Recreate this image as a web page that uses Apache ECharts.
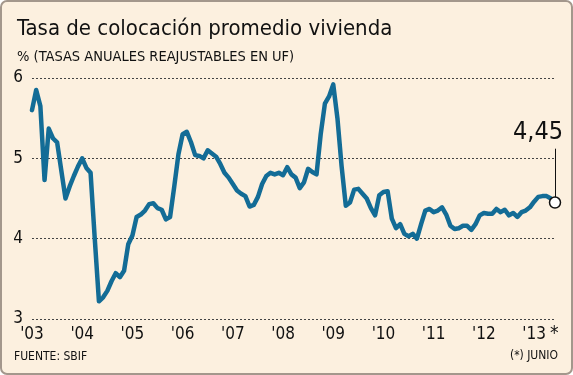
<!DOCTYPE html>
<html>
<head>
<meta charset="utf-8">
<script src="https://cdn.jsdelivr.net/npm/echarts@6/dist/echarts.min.js"></script>
<style>
  html, body { margin: 0; padding: 0; background: #fff; }
  #chart { width: 573px; height: 375px; }
</style>
</head>
<body>
<div id="chart"></div>
<script>
// tasas mensuales, enero 2003 - junio 2013
var years = ['2003', '2004', '2005', '2006', '2007', '2008', '2009', '2010', '2011', '2012', '2013']
var r2003 = [5.6, 5.85, 5.65, 4.73, 5.37, 5.25, 5.2, 4.85, 4.5, 4.65, 4.78, 4.9]
var r2004 = [5.0, 4.88, 4.82, 4.0, 3.22, 3.27, 3.35, 3.47, 3.57, 3.52, 3.6, 3.93]
var r2005 = [4.04, 4.27, 4.3, 4.35, 4.43, 4.44, 4.38, 4.36, 4.24, 4.27, 4.65, 5.05]
var r2006 = [5.3, 5.33, 5.2, 5.04, 5.03, 5.0, 5.1, 5.06, 5.02, 4.93, 4.82, 4.76]
var r2007 = [4.68, 4.6, 4.56, 4.53, 4.4, 4.42, 4.52, 4.68, 4.78, 4.82, 4.8, 4.82]
var r2008 = [4.79, 4.89, 4.8, 4.76, 4.63, 4.7, 4.87, 4.83, 4.8, 5.3, 5.68, 5.77]
var r2009 = [5.92, 5.5, 4.9, 4.41, 4.45, 4.61, 4.62, 4.56, 4.5, 4.38, 4.29, 4.54]
var r2010 = [4.58, 4.59, 4.25, 4.13, 4.18, 4.06, 4.03, 4.06, 4.0, 4.18, 4.35, 4.37]
var r2011 = [4.33, 4.35, 4.39, 4.3, 4.16, 4.12, 4.13, 4.16, 4.16, 4.11, 4.18, 4.29]
var r2012 = [4.32, 4.31, 4.31, 4.37, 4.33, 4.36, 4.29, 4.32, 4.27, 4.33, 4.35, 4.39]
var r2013 = [4.46, 4.52, 4.53, 4.53, 4.5, 4.45]
var yTicks = [3, 4, 5, 6]
var lastLabel = '4,45'

var rates = [].concat(r2003, r2004, r2005, r2006, r2007, r2008, r2009, r2010, r2011, r2012, r2013)
var months = []
var perYear = [r2003, r2004, r2005, r2006, r2007, r2008, r2009, r2010, r2011, r2012, r2013]
perYear.forEach(function (arr, i) {
  arr.forEach(function (v, m) {
    months.push(years[i] + '-' + (m < 9 ? '0' : '') + (m + 1))
  })
})
var lastCat = months[months.length - 1]
var lastVal = rates[rates.length - 1]

var font = '"Liberation Sans Narrow", "DejaVu Sans Condensed", "Liberation Sans", sans-serif'

var chart = echarts.init(document.getElementById('chart'))
chart.setOption({
  backgroundColor: '#fff',
  animation: false,
  textStyle: { fontFamily: font },
  graphic: [
    {
      type: 'rect',
      z: -10,
      shape: { x: 1, y: 1, width: 571, height: 373, r: 6 },
      style: { fill: '#fcf0df', stroke: '#a3978c', lineWidth: 2 }
    },
    {
      type: 'text', left: 14, top: 351,
      style: { text: 'FUENTE: SBIF', font: '12px ' + font, fill: '#111' }
    },
    {
      type: 'text', right: 15, top: 350,
      style: { text: '(*) JUNIO', font: '12px ' + font, fill: '#111' }
    },
    {
      type: 'text', left: 550, top: 325,
      style: { text: '*', font: '19px ' + font, fill: '#111' }
    }
  ],
  title: [
    {
      text: 'Tasa de colocación promedio vivienda',
      left: 12, top: 13,
      textStyle: { fontFamily: font, fontSize: 22, fontWeight: 'normal', color: '#111' }
    },
    {
      text: '% (TASAS ANUALES REAJUSTABLES EN UF)',
      left: 12, top: 45,
      textStyle: { fontFamily: font, fontSize: 14.5, fontWeight: 'normal', color: '#111' }
    }
  ],
  grid: { left: 32, right: 18, top: 78, bottom: 56 },
  xAxis: {
    type: 'category',
    data: months,
    boundaryGap: false,
    axisLine: { show: false },
    axisTick: { show: false },
    axisLabel: {
      interval: function (i) { return i % 12 === 0 },
      formatter: function (v) { return "'" + v.slice(2, 4) },
      color: '#111',
      fontSize: 17,
      fontFamily: font,
      margin: 7
    }
  },
  yAxis: {
    type: 'value',
    min: yTicks[0],
    max: yTicks[yTicks.length - 1],
    interval: 1,
    axisLine: { show: false },
    axisTick: { show: false },
    axisLabel: { color: '#111', fontSize: 17, fontFamily: font, margin: 9 },
    splitLine: { lineStyle: { color: '#444', width: 1, type: [2, 2] } }
  },
  series: [{
    type: 'line',
    data: rates,
    symbol: 'none',
    lineStyle: { color: '#136c96', width: 4.5, join: 'round', cap: 'round' },
    markLine: {
      silent: true,
      symbol: 'none',
      lineStyle: { color: '#111', width: 1, type: 'solid' },
      label: {
        show: true,
        position: 'end',
        formatter: lastLabel,
        color: '#111',
        fontSize: 25,
        fontFamily: font,
        distance: 4,
        offset: [-17, 0]
      },
      data: [[{ coord: [lastCat, lastVal] }, { coord: [lastCat, 5.12] }]]
    },
    markPoint: {
      silent: true,
      symbol: 'circle',
      symbolSize: 11,
      itemStyle: { color: '#fff', borderColor: '#111', borderWidth: 1.5 },
      label: { show: false },
      data: [{ coord: [lastCat, lastVal] }]
    }
  }]
})
</script>
</body>
</html>
